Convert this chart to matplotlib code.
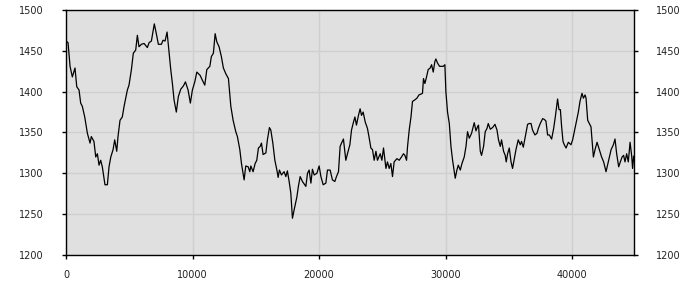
import matplotlib
matplotlib.use("Agg")
import matplotlib.pyplot as plt

x = [0, 160, 320, 500, 710, 850, 1030, 1160, 1290, 1480, 1690, 1900, 2000, 2210,
     2350, 2480, 2610, 2740, 2870, 3080, 3270, 3400, 3540, 3720, 3850, 4010, 4110,
     4270, 4450, 4590, 4850, 4980, 5170, 5320, 5510, 5640, 5770, 5960, 6170,
     6430, 6570, 6750, 6980, 7140, 7300, 7540, 7670, 7830, 7990, 8150, 8280, 8410,
     8540, 8720, 8880, 9070, 9280, 9440, 9650, 9830, 9990, 10180, 10340, 10600,
     10780, 10970, 11130, 11370, 11490, 11650, 11790, 11920, 12100, 12280, 12440,
     12630, 12840, 13030, 13210, 13420, 13550, 13740, 13870, 14000, 14080, 14210,
     14400, 14530, 14610, 14790, 14950, 15080, 15210, 15350, 15450, 15580, 15800,
     15920, 16080, 16190, 16350, 16510, 16670, 16770, 16870, 17030, 17240, 17380,
     17500, 17640, 17770, 17900, 18030, 18250, 18370, 18510, 18690, 18960,
     19090, 19220, 19360, 19480, 19620, 19830, 20010, 20150, 20330, 20540, 20670,
     20880, 21060, 21250, 21380, 21540, 21670, 21780, 21930, 22120, 22250, 22440,
     22570, 22730, 22840, 22960, 23120, 23250, 23360, 23490, 23650, 23830, 23970,
     24100, 24230, 24360, 24500, 24620, 24840, 24970, 25100, 25290,
     25410, 25550, 25680, 25810, 25940, 26160, 26340, 26520, 26680, 26790, 26920,
     27000, 27130, 27270, 27390, 27580, 27740, 27900, 28060, 28180, 28260, 28370,
     28500, 28630, 28790, 28900, 29030, 29160, 29240, 29370, 29530, 29690, 29820,
     29950, 30030, 30160, 30300, 30430, 30560, 30690, 30770, 30900, 31010, 31170,
     31300, 31480, 31620, 31740, 31880, 32060, 32270, 32410, 32530, 32610, 32750,
     32850, 33010, 33140, 33280, 33380, 33540, 33720, 33910, 34070, 34190, 34330,
     34430, 34590, 34720, 34800, 34910, 35040, 35180, 35300, 35440, 35570, 35750,
     35910, 36010, 36150, 36310, 36490, 36620, 36760, 36880, 37070, 37230, 37340,
     37490, 37680, 37810, 37940, 38070, 38210, 38390, 38550, 38680, 38860, 38970,
     39080, 39180, 39290, 39390, 39530, 39710, 39920, 40050, 40180, 40370, 40500,
     40630, 40790, 40900, 41030, 41110, 41240, 41370, 41500, 41580, 41690, 41820,
     41980, 42160, 42340, 42500, 42690, 42870, 43090, 43270, 43400, 43530, 43690,
     43820, 43960, 44080, 44190, 44320, 44450, 44590, 44720, 44790, 44870, 44980]

y = [1462, 1460, 1431, 1418, 1429, 1406, 1402, 1386, 1382, 1369, 1349, 1337, 1345,
     1339, 1320, 1324, 1310, 1316, 1308, 1286, 1286, 1308, 1320, 1329, 1341, 1327,
     1345, 1365, 1369, 1382, 1402, 1408, 1427, 1447, 1451, 1469, 1455, 1458, 1459,
     1454, 1460, 1462, 1483, 1471, 1458, 1458, 1463, 1462, 1473, 1447, 1427, 1410,
     1390, 1375, 1394, 1403, 1407, 1412, 1402, 1386, 1402, 1412, 1424, 1420,
     1414, 1408, 1427, 1431, 1443, 1447, 1471, 1461, 1455, 1443, 1429,
     1422, 1416, 1382, 1365, 1351, 1345, 1329, 1312, 1300, 1292, 1309,
     1308, 1302, 1309, 1302, 1312, 1316, 1331, 1333, 1337, 1323, 1325,
     1341, 1356, 1353, 1337, 1316, 1304, 1295, 1304, 1298, 1302, 1296,
     1303, 1290, 1276, 1245, 1255, 1271, 1284, 1296, 1290, 1284,
     1300, 1304, 1288, 1305, 1298, 1300, 1309, 1296, 1286, 1288, 1304,
     1304, 1292, 1290, 1296, 1302, 1333, 1337, 1342, 1316, 1324, 1335,
     1353, 1363, 1369, 1359, 1371, 1379, 1371, 1375, 1363, 1355, 1343,
     1331, 1329, 1316, 1327, 1316, 1324, 1316, 1331, 1306,
     1314, 1306, 1312, 1296, 1314, 1318, 1316, 1320, 1324, 1322, 1316,
     1333, 1353, 1369, 1388, 1390, 1392, 1396, 1397, 1398, 1416, 1410,
     1418, 1427, 1429, 1433, 1424, 1437, 1440, 1435, 1431, 1431, 1431,
     1433, 1400, 1375, 1361, 1333, 1316, 1302, 1294, 1304, 1310, 1304,
     1312, 1320, 1333, 1351, 1343, 1349, 1362, 1352, 1357, 1359, 1327,
     1322, 1333, 1351, 1355, 1361, 1354, 1356, 1360, 1353, 1341, 1333,
     1341, 1327, 1322, 1314, 1324, 1331, 1314, 1306, 1318, 1329, 1341,
     1335, 1339, 1332, 1345, 1360, 1361, 1361, 1353, 1347, 1349, 1355,
     1361, 1367, 1366, 1364, 1347, 1347, 1342, 1355, 1369, 1391, 1378,
     1378, 1357, 1339, 1335, 1331, 1338, 1335, 1341, 1351, 1365, 1375,
     1388, 1398, 1392, 1396, 1392, 1365, 1361, 1357, 1341, 1320, 1329,
     1338, 1329, 1320, 1314, 1302, 1314, 1329, 1335, 1342, 1324, 1308,
     1314, 1320, 1322, 1314, 1324, 1314, 1338, 1321, 1306, 1321, 1312]

yticks = [1200, 1250, 1300, 1350, 1400, 1450, 1500]
xticks = [0, 10000, 20000, 30000, 40000]

fig = plt.figure(figsize=(7, 3), dpi=100)
ax = fig.add_axes([0.0943, 0.15, 0.8114, 0.8167])
ax.set_facecolor('#e0e0e0')

ax.plot(x, y, color='black', linewidth=0.9)

ax.set_xlim(0, 44900)
ax.set_ylim(1200, 1500)
ax.set_xticks(xticks)
ax.set_yticks(yticks)
ax.grid(True, color='#cfcfcf', linewidth=1)
ax.set_axisbelow(True)

for s in ax.spines.values():
    s.set_color('black')
    s.set_linewidth(1)

ax.tick_params(axis='y', which='both', left=True, right=True,
               labelleft=True, labelright=True, direction='out',
               length=3, width=1, pad=13, labelsize=7, labelcolor='#222222')
ax.tick_params(axis='x', direction='out', length=3, width=1, pad=8,
               labelsize=7, labelcolor='#222222')

fig.savefig('out.png', dpi=100)
